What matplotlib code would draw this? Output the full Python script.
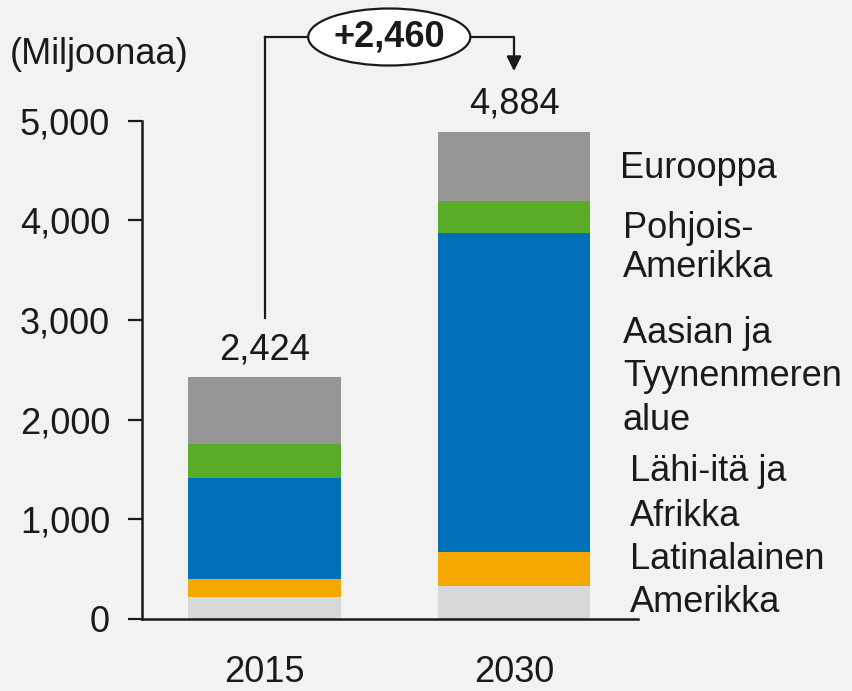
import matplotlib
matplotlib.use("Agg")
import matplotlib.pyplot as plt
from matplotlib.patches import Ellipse
import numpy as np

# data (millions)
years = ["2015", "2030"]
totals = [2424, 4884]
latin_america = [221, 331]
mideast_africa = [180, 341]
asia_pacific = [1014, 3201]
north_america = [341, 321]
europe = [668, 690]
increase_label = "+2,460"

segments = [latin_america, mideast_africa, asia_pacific, north_america, europe]
colors = ["#d7d8da", "#f5a800", "#0070b8", "#5aab28", "#969696"]

plt.rcParams['font.family'] = ['Liberation Sans', 'DejaVu Sans']
text_color = "#1a1a1a"
bg = "#f2f2f2"

fig = plt.figure(figsize=(8.52, 6.91), dpi=100, facecolor=bg)
ax = fig.add_axes([0.1667, 0.1042, 0.7488 - 0.1667, 0.8253 - 0.1042])
ax.set_facecolor(bg)

x = np.arange(len(years))
bottom = np.zeros(len(years))
for vals, col in zip(segments, colors):
    ax.bar(x, vals, bottom=bottom, width=0.61, color=col, edgecolor='none', zorder=2)
    bottom += np.array(vals)

for xi, t in zip(x, totals):
    ax.text(xi, t + 280, f"{t:,}", ha='center', va='center', fontsize=26, color=text_color)

ax.set_xlim(-0.491, 1.497)
ax.set_ylim(0, 5000)
ax.set_yticks(range(0, 5001, 1000))
ax.set_yticklabels([f"{v:,}" for v in range(0, 5001, 1000)])
ax.set_xticks(x)
ax.set_xticklabels(years)

for s in ['top', 'right']:
    ax.spines[s].set_visible(False)
for s in ['left', 'bottom']:
    ax.spines[s].set_linewidth(1.8)
    ax.spines[s].set_color(text_color)
ax.tick_params(axis='y', length=10, width=1.6, pad=13, labelsize=26, colors=text_color)
ax.tick_params(axis='x', length=0, pad=26, labelsize=26, colors=text_color)

# y unit label
fig.text(10 / 852, 1 - 55 / 691, "(Miljoonaa)", ha='left', va='center', fontsize=26, color=text_color)

# increase bracket
y_line = 5840
ax.plot([0, 0], [3020, y_line], color=text_color, lw=1.6, clip_on=False)
ax.plot([0, 0.5 - 0.325], [y_line, y_line], color=text_color, lw=1.6, clip_on=False)
ax.plot([0.5 + 0.325, 1, 1], [y_line, y_line, 5600], color=text_color, lw=1.6, clip_on=False)
ax.annotate("", xy=(1, 5470), xytext=(1, 5620),
            arrowprops=dict(arrowstyle='-|>', color=text_color, lw=1.6, mutation_scale=22),
            annotation_clip=False)
ell = Ellipse((0.5, y_line), 0.65, 572, facecolor='white', edgecolor=text_color, lw=1.6,
              clip_on=False, zorder=3)
ax.add_patch(ell)
ax.text(0.5, y_line, increase_label, ha='center', va='center', fontsize=26, fontweight='bold',
        color=text_color, zorder=4)

# region labels: x px, y px (block centre), text, line spacing
labels = [
    (620, 168, "Eurooppa", 1.0),
    (623, 248, "Pohjois-\nAmerikka", 1.16),
    (623, 377, "Aasian ja\nTyynenmeren\nalue", 1.3),
    (630, 494, "Lähi-itä ja\nAfrikka", 1.38),
    (630, 581, "Latinalainen\nAmerikka", 1.3),
]
for px, py, txt, ls in labels:
    fig.text(px / 852, 1 - py / 691, txt, ha='left', va='center', fontsize=26,
             color=text_color, linespacing=ls)

fig.savefig("out.png", dpi=100, facecolor=bg)
